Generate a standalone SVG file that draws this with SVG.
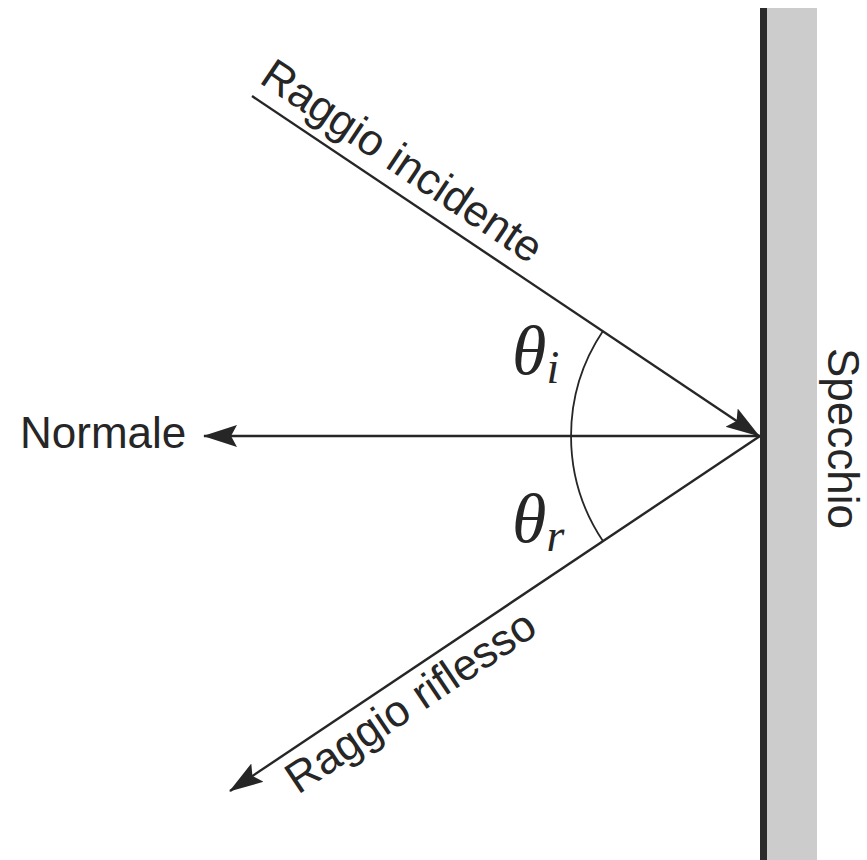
<svg xmlns="http://www.w3.org/2000/svg" width="867" height="860" viewBox="0 0 867 860">
  <style>
    .ray { stroke: #262626; stroke-width: 2.4; fill: none; }
    .arc { stroke: #262626; stroke-width: 1.8; fill: none; }
    .lbl { font-family: "Liberation Sans", Arial, sans-serif; font-size: 44px; fill: #262626; }
    .sym { font-family: "Liberation Serif", "Times New Roman", serif; font-style: italic; fill: #262626; }
  </style>
  <defs>
    <marker id="arrow" viewBox="0 0 34 24" refX="33" refY="12" markerUnits="userSpaceOnUse" markerWidth="34" markerHeight="24" orient="auto">
      <path d="M0,1 L34,12 L0,23 L6,12 Z" fill="#262626"/>
    </marker>
  </defs>
  <rect width="867" height="860" fill="#ffffff"/>

  <g id="mirror">
    <rect x="767" y="8" width="50" height="852" fill="#cccccc"/>
    <rect x="760" y="8" width="7" height="852" fill="#2b2b2b"/>
    <text class="lbl" transform="translate(828,348) rotate(90)">Specchio</text>
  </g>

  <g id="connectors">
    <line id="incident" class="ray" x1="252" y1="96" x2="759" y2="436" marker-end="url(#arrow)"/>
    <line id="normal" class="ray" x1="760" y1="436" x2="204" y2="436" marker-end="url(#arrow)"/>
    <line id="reflected" class="ray" x1="760" y1="436" x2="230" y2="791" marker-end="url(#arrow)"/>
    <path id="angle-arc" class="arc" d="M603.1,330.7 A189,189 0 0 0 603.1,541.3"/>
  </g>

  <g id="label-incident">
    <text class="lbl" transform="translate(258,82) rotate(33.87)">Raggio incidente</text>
  </g>
  <g id="label-normal">
    <text class="lbl" x="20" y="448">Normale</text>
  </g>
  <g id="label-reflected">
    <text class="lbl" transform="translate(298,795) rotate(-33.87)">Raggio riflesso</text>
  </g>
  <g id="theta-i">
    <text class="sym" x="512" y="374" font-size="70">θ<tspan font-size="46" dy="9">i</tspan></text>
  </g>
  <g id="theta-r">
    <text class="sym" x="512" y="542" font-size="70">θ<tspan font-size="46" dy="9">r</tspan></text>
  </g>
</svg>
